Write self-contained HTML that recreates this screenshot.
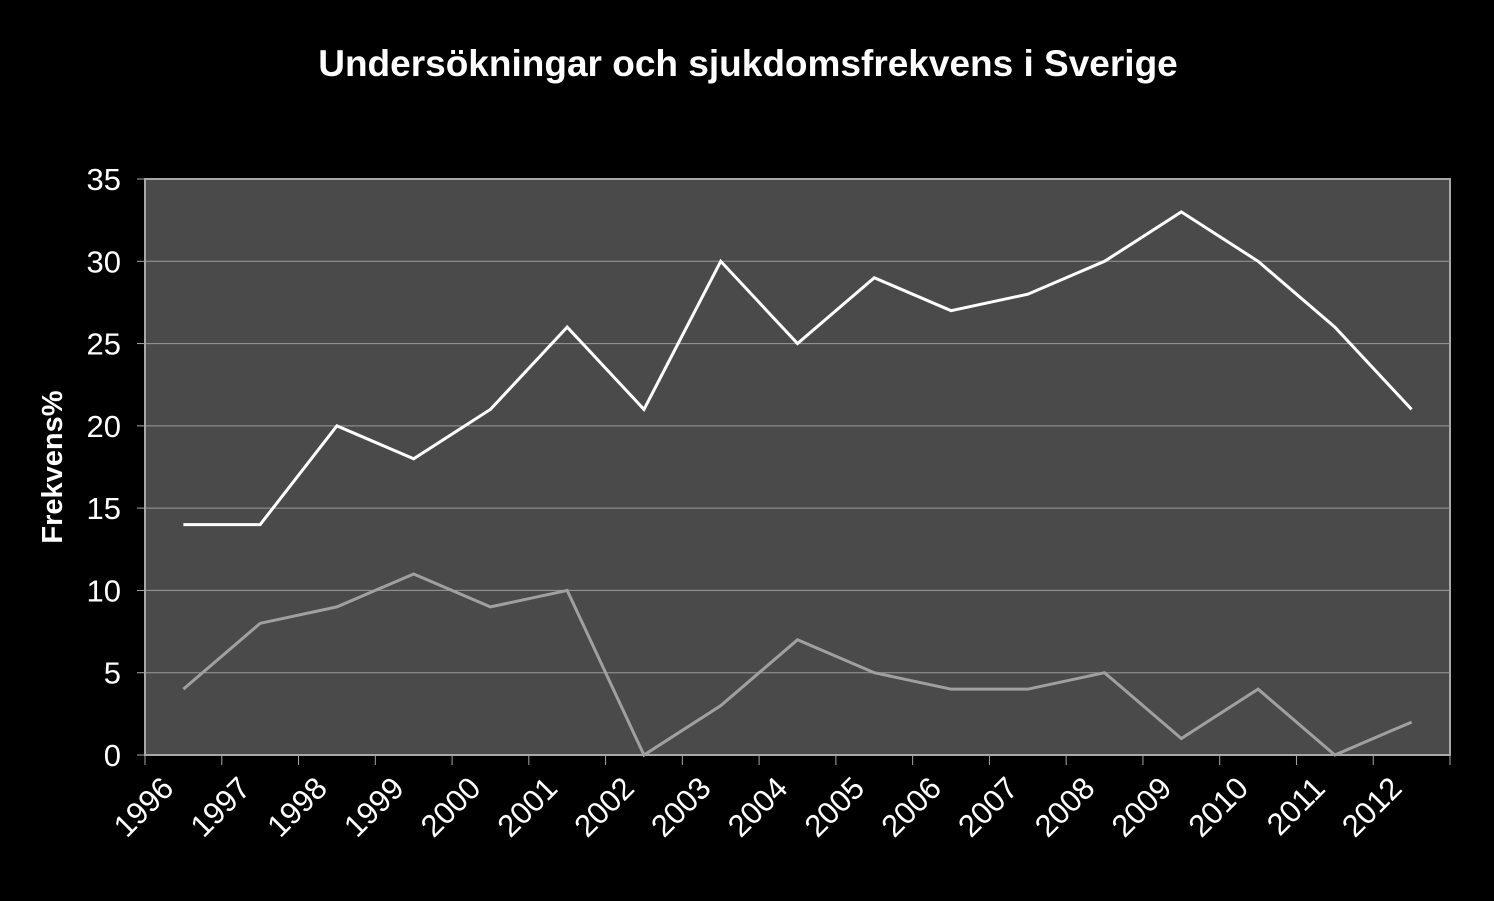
<!DOCTYPE html>
<html><head><meta charset="utf-8"><style>
html,body{margin:0;padding:0;background:#000;}
svg{display:block;font-family:"Liberation Sans",Arial,sans-serif;}
</style></head><body>
<svg id="chart" width="1494" height="901" viewBox="0 0 1494 901">
<rect width="1494" height="901" fill="#000"/>
<text x="748" y="76" text-anchor="middle" fill="#fff" font-size="37" font-weight="bold">Undersökningar och sjukdomsfrekvens i Sverige</text>
<rect x="145" y="179" width="1305" height="576" fill="#4a4a4a" stroke="#a8a8a8" stroke-width="2"/>
<g id="grid"></g><g id="axes"></g><g id="series"></g>
<text transform="translate(62,467) rotate(-90)" text-anchor="middle" fill="#fff" font-size="29" font-weight="bold">Frekvens%</text>
</svg>
<script>
const categories=["1996","1997","1998","1999","2000","2001","2002","2003","2004","2005","2006","2007","2008","2009","2010","2011","2012"];
const seriesUndersokning=[14,14,20,18,21,26,21,30,25,29,27,28,30,33,30,26,21];
const seriesSjukdom=[4,8,9,11,9,10,0,3,7,5,4,4,5,1,4,0,2];
const yTicks=[0,5,10,15,20,25,30,35];
const NS="http://www.w3.org/2000/svg";
const X0=145,X1=1450,Y0=755,Y1=179,YMAX=35;
const bw=(X1-X0)/categories.length;
const xc=i=>X0+bw*(i+0.5);
const y=v=>Y0-(v/YMAX)*(Y0-Y1);
function mk(tag,attrs,parent){const e=document.createElementNS(NS,tag);for(const k in attrs)e.setAttribute(k,attrs[k]);parent.appendChild(e);return e;}
const grid=document.getElementById('grid'),axes=document.getElementById('axes'),ser=document.getElementById('series');
yTicks.forEach(t=>{
  if(t>0&&t<YMAX){const l=mk('line',{x1:X0,x2:X1,y1:y(t),y2:y(t),stroke:'#9a9a9a','stroke-width':1},grid);
  
  }
  const tk=mk('line',{x1:X0-8,x2:X0,y1:y(t),y2:y(t),stroke:'#a8a8a8','stroke-width':1},axes);
  
  
  const tx=mk('text',{x:X0-24,y:y(t)+11,'text-anchor':'end',fill:'#fff','font-size':31},axes);
  tx.textContent=t;
  
  
});
for(let i=0;i<=categories.length;i++){
  const tk=mk('line',{x1:X0+bw*i,x2:X0+bw*i,y1:Y0,y2:Y0+10,stroke:'#a8a8a8','stroke-width':1},axes);
  
  
}
categories.forEach((c,i)=>{
  const px=xc(i)-8,py=790;
  const tx=mk('text',{x:px,y:py,'text-anchor':'end',fill:'#fff','font-size':31,transform:`rotate(-45 ${px} ${py})`},axes);
  tx.textContent=c;
  
  
});
function line(vals,color,name){
  const p=mk('polyline',{points:vals.map((v,i)=>xc(i)+','+y(v)).join(' '),fill:'none',stroke:color,'stroke-width':3,'stroke-linejoin':'miter'},ser);
  
  
}
line(seriesSjukdom,'#a0a0a0','series-sjukdom-line');
line(seriesUndersokning,'#ffffff','series-undersokning-line');
</script>
</body></html>
